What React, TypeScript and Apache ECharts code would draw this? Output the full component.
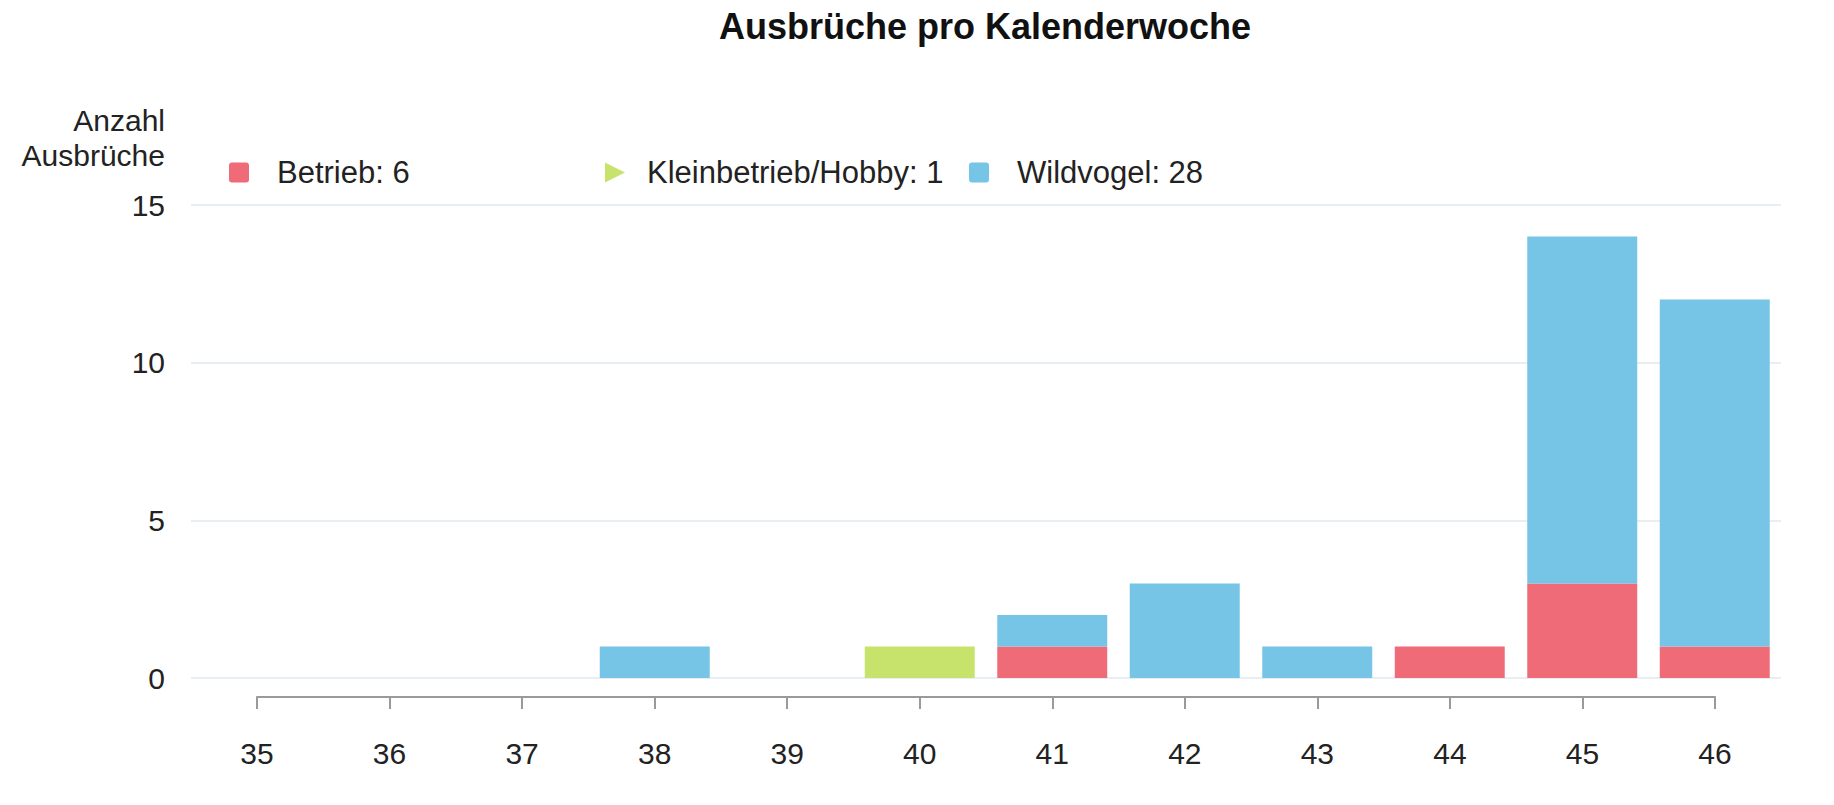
import React, { useEffect, useRef } from "react";
import * as echarts from "echarts";

const weeks = ["35", "36", "37", "38", "39", "40", "41", "42", "43", "44", "45", "46"];
const betrieb = [0, 0, 0, 0, 0, 0, 1, 0, 0, 1, 3, 1];
const kleinbetrieb = [0, 0, 0, 0, 0, 1, 0, 0, 0, 0, 0, 0];
const wildvogel = [0, 0, 0, 1, 0, 0, 1, 3, 1, 0, 11, 11];
const yTicks = [0, 5, 10, 15];

const seriesNames = ["Betrieb", "Kleinbetrieb/Hobby", "Wildvogel"];
const seriesData = [betrieb, kleinbetrieb, wildvogel];
const seriesColors = ["#ee6b77", "#c8e36b", "#76c4e6"];

const FONT = '"Liberation Sans", Arial, sans-serif';

const ICON_SQUARE = "path://M3,0 H17 Q20,0 20,3 V17 Q20,20 17,20 H3 Q0,20 0,17 V3 Q0,0 3,0 Z";
const ICON_TRI = "path://M0,0 L20,10 L0,20 Z";

export default function App() {
  const ref = useRef<HTMLDivElement>(null);

  useEffect(() => {
    document.body.style.margin = "0";
    const chart = echarts.init(ref.current!, null, { renderer: "svg" });
    const totals = seriesData.map((arr) => arr.reduce((a, b) => a + b, 0));
    const legendLefts = [224, 600, 964];
    const textPads = [17, 11, 17];
    const icons = [ICON_SQUARE, ICON_TRI, ICON_SQUARE];

    chart.setOption({
      animation: false,
      backgroundColor: "#ffffff",
      textStyle: { fontFamily: FONT },
      graphic: [
        {
          type: "text",
          x: 985,
          y: 26,
          style: {
            text: "Ausbrüche pro Kalenderwoche",
            align: "center",
            verticalAlign: "middle",
            font: `bold 36px ${FONT}`,
            fill: "#111",
          },
        },
        {
          type: "text",
          x: 165,
          y: 103,
          style: {
            text: "Anzahl\nAusbrüche",
            align: "right",
            verticalAlign: "top",
            font: `30px ${FONT}`,
            lineHeight: 35,
            fill: "#222",
          },
        },
      ],
      legend: seriesNames.map((name, i) => ({
        data: [name],
        left: legendLefts[i],
        top: 152,
        itemWidth: 32,
        itemHeight: 20,
        itemGap: 0,
        icon: icons[i],
        selectedMode: false,
        formatter: () => `${name}: ${totals[i]}`,
        textStyle: {
          fontSize: 31,
          color: "#222",
          fontFamily: FONT,
          lineHeight: 30,
          padding: [0, 0, 0, textPads[i]],
        },
      })),
      grid: [
        { left: 191, right: 53, top: 205, bottom: 127, outerBoundsMode: "none" },
        { left: 257, right: 119, top: 696, height: 1, outerBoundsMode: "none" },
      ],
      xAxis: [
        { type: "category", gridIndex: 0, data: weeks, show: false },
        {
          type: "category",
          gridIndex: 1,
          data: weeks,
          boundaryGap: false,
          position: "bottom",
          axisLine: { show: true, lineStyle: { color: "#9a9a9a", width: 2 } },
          axisTick: { show: true, length: 12, lineStyle: { color: "#9a9a9a", width: 2 } },
          axisLabel: { fontSize: 30, color: "#222", margin: 41, fontFamily: FONT },
          splitLine: { show: false },
        },
      ],
      yAxis: [
        {
          type: "value",
          gridIndex: 0,
          min: yTicks[0],
          max: yTicks[yTicks.length - 1],
          interval: 5,
          axisLine: { show: false },
          axisTick: { show: false },
          axisLabel: { fontSize: 30, color: "#222", margin: 26, fontFamily: FONT },
          splitLine: { show: true, lineStyle: { color: "#e9eef3", width: 2 } },
        },
        { type: "value", gridIndex: 1, show: false },
      ],
      series: seriesNames.map((name, i) => ({
        name,
        type: "bar",
        stack: "total",
        xAxisIndex: 0,
        yAxisIndex: 0,
        data: seriesData[i],
        barCategoryGap: "17%",
        itemStyle: { color: seriesColors[i] },
      })),
    });

    return () => chart.dispose();
  }, []);

  return (
    <div
      ref={ref}
      style={{ position: "absolute", left: 0, top: 0, width: 1834, height: 805 }}
    />
  );
}
